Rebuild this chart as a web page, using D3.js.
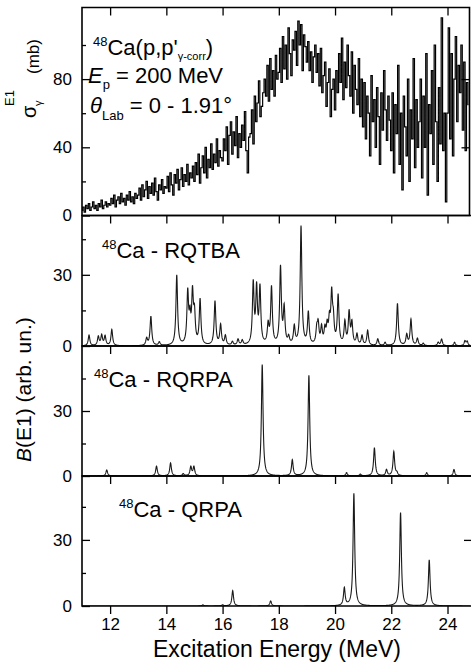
<!DOCTYPE html>
<html>
<head>
<meta charset="utf-8">
<script src="https://cdn.jsdelivr.net/npm/d3@7"></script>
<style>
body{margin:0;background:#fff;}
text{font-family:"Liberation Sans",Arial,sans-serif;fill:#000;}
</style>
</head>
<body>
<script>
// measured spectrum, 48Ca(p,p'), bins of 0.05 MeV starting at 11.00 MeV
var spec_start = 11.0, spec_bin = 0.05;
var sigmaE1 = [
  3,5,2,6,4,7,3,5,8,4,6,3,7,5,9,4,6,8,5,7,
  6,10,7,12,5,9,11,7,13,8,10,6,12,9,14,8,11,7,13,10,
  12,16,9,18,11,15,20,10,17,13,19,12,22,14,9,18,15,21,13,17,
  16,23,14,25,18,12,24,19,27,15,21,28,17,24,20,30,18,25,22,29,
  20,31,24,36,19,28,35,25,40,22,33,28,42,27,36,31,45,29,38,34,
  32,45,38,52,30,47,55,36,49,41,58,34,48,40,53,44,61,38,25,46,
  48,62,42,70,55,66,79,58,64,72,80,70,88,67,92,74,85,70,94,80,
  84,98,78,105,86,100,80,110,95,82,103,97,108,88,114,100,112,85,106,99,
  90,102,85,96,78,93,100,84,95,76,98,72,82,90,64,78,86,58,74,80,
  62,85,72,95,78,104,68,90,75,100,82,70,96,60,88,74,65,92,58,80,
  52,78,45,70,60,35,82,55,68,40,75,58,30,72,50,85,62,44,70,56,
  38,72,25,65,48,88,30,60,15,70,52,35,80,20,62,45,92,28,68,40,
  55,80,22,70,40,95,12,65,48,85,30,100,55,20,75,42,116,38,60,8,
  60,110,45,95,35,80,105,55,88,72,100,50,90,38,78,65
];

// calculated E1 strength: transition energies (MeV) and peak heights (arb. un.)
var rqtbaE = [11.25,11.58,11.70,11.82,12.06,13.30,13.45,13.75,14.37,14.76,14.84,14.93,15.00,15.20,15.73,15.93,16.10,16.35,16.55,16.70,
              17.09,17.21,17.33,17.62,17.74,18.06,18.19,18.35,18.55,18.79,19.05,19.35,19.40,19.52,19.64,19.72,19.80,19.88,19.94,
              20.11,20.35,20.50,20.60,20.78,20.96,21.16,21.52,21.78,22.22,22.55,22.70,22.93,23.14,23.67,23.79,24.25,24.62,24.70];
var rqtbaB = [4.5,3.8,4.3,4.0,6.8,3.0,12.3,1.5,29.5,21.5,10,20.5,12,19,18.5,8.5,4,1.5,2.5,2,
              25.5,23,23.5,8,24,32.5,15,3,7.5,50,13.5,6,8,7,6,7,9,20,9,
              20.5,9.5,13.5,9,4.5,4,6.3,2.8,1.3,17.8,4.5,11,3,1,1.4,2.8,1.5,2,1.8];
var rqrpaE = [11.88,13.65,14.15,14.60,14.87,14.98,17.41,18.48,19.07,20.41,20.90,21.40,21.83,22.09,22.20,23.26,24.23];
var rqrpaB = [2.8,4.5,6,1,4.2,4.2,51.4,7.3,46.4,1.5,0.8,13,2.8,11.2,1.2,1.5,3];
var qrpaE = [15.30,16.00,16.36,17.71,20.33,20.67,22.33,23.35];
var qrpaB = [0.5,0.5,7,2.3,8,51,42.4,20.9];
var gamma_w = 0.035;  // lorentzian half width used for the calculated spectra

var xTicks = [12,14,16,18,20,22,24];
var yTicksTop = [0,40,80], yMinorTop = [20,60,100];
var yTicksCalc = [0,30], yMinorCalc = [15,45];

var svg_width = 471, svg_height = 669;
var left = 82, right = 470;

var svg = d3.select('body')
  .append('svg')
  .attr('width', svg_width)
  .attr('height', svg_height);

var xScale = d3.scaleLinear().domain([11, 24.8]).range([left, right]);

var panels = [
  {top: 7.5,   bottom: 215.5, ymax: 122, major: yTicksTop,  minor: yMinorTop,  edge: 469.5},
  {top: 215.5, bottom: 346,   ymax: 55,  major: yTicksCalc, minor: yMinorCalc, edge: 472},
  {top: 346,   bottom: 476,   ymax: 60,  major: yTicksCalc, minor: yMinorCalc, edge: 472},
  {top: 476,   bottom: 606,   ymax: 59,  major: yTicksCalc, minor: yMinorCalc, edge: 472}
];

panels.forEach(function(p){
  p.y = d3.scaleLinear().domain([0, p.ymax]).range([p.bottom, p.top]);
});

function strength(E, B, e){
  var s = 0;
  for (var i = 0; i < E.length; i++){
    var d = (e - E[i]) / gamma_w;
    s += B[i] / (1 + d*d);
  }
  return s;
}

// curves
var clip = svg.append('defs');
panels.forEach(function(p, i){
  clip.append('clipPath').attr('id', 'c' + i)
    .append('rect').attr('x', left).attr('y', p.top)
    .attr('width', p.edge - left).attr('height', p.bottom - p.top);
});

var specLine = d3.line()
  .x(function(d, i){ return xScale(spec_start + i * spec_bin); })
  .y(function(d){ return panels[0].y(d); })
  .curve(d3.curveStep);

svg.append('path')
  .datum(sigmaE1)
  .attr('clip-path', 'url(#c0)')
  .attr('d', specLine)
  .attr('fill', 'none')
  .attr('stroke', '#000')
  .attr('stroke-width', 1.2);

var grid = d3.range(11, 24.81, 0.005);
[[rqtbaE, rqtbaB], [rqrpaE, rqrpaB], [qrpaE, qrpaB]].forEach(function(c, k){
  var p = panels[k + 1];
  var line = d3.line()
    .x(function(e){ return xScale(e); })
    .y(function(e){ return p.y(strength(c[0], c[1], e)); });
  svg.append('path')
    .datum(grid)
    .attr('clip-path', 'url(#c' + (k + 1) + ')')
    .attr('d', line)
    .attr('fill', 'none')
    .attr('stroke', '#1a1a1a')
    .attr('stroke-width', 1.1);
});

// axes and frames
panels.forEach(function(p, i){
  var g = svg.append('g');
  g.append('g')
    .attr('transform', 'translate(' + left + ',0)')
    .call(d3.axisLeft(p.y).tickValues(p.major).tickSizeInner(-8).tickSizeOuter(0).tickPadding(10).tickFormat(d3.format('d')));
  g.append('g')
    .attr('transform', 'translate(' + left + ',0)')
    .call(d3.axisLeft(p.y).tickValues(p.minor).tickSizeInner(-4).tickSizeOuter(0).tickFormat(''));
  g.append('g')
    .attr('transform', 'translate(' + p.edge + ',0)')
    .call(d3.axisRight(p.y).tickValues(p.major.slice(1)).tickSizeInner(-8).tickSizeOuter(0).tickFormat(''));
  var xa = d3.axisBottom(xScale).tickValues(xTicks).tickSizeInner(8).tickSizeOuter(0).tickPadding(4);
  if (i < 3) xa.tickFormat('');
  g.append('g')
    .attr('transform', 'translate(0,' + p.bottom + ')')
    .call(xa);
  if (i == 0){
    g.append('g')
      .attr('transform', 'translate(0,' + p.top + ')')
      .call(d3.axisBottom(xScale).tickValues(xTicks).tickSizeInner(8).tickSizeOuter(0).tickFormat(''));
  }
  g.selectAll('.domain').remove();
  g.selectAll('.tick line').attr('stroke', '#000').attr('stroke-width', 1.3);
  g.selectAll('.tick text').attr('font-size', 17).attr('fill', '#000')
    .attr('font-family', '"Liberation Sans",Arial,sans-serif');
  g.append('path')
    .attr('d', 'M' + p.edge + ',' + p.top + 'H' + left + 'V' + p.bottom + 'H' + p.edge + (i == 0 ? 'Z' : ''))
    .attr('fill', 'none')
    .attr('stroke', '#000')
    .attr('stroke-width', 1.6);
});

// panel annotations
var t1 = svg.append('text').attr('x', 93).attr('y', 55).attr('font-size', 22);
t1.append('tspan').attr('font-size', 13).attr('dy', -9).text('48');
t1.append('tspan').attr('dy', 9).text("Ca(p,p'");
t1.append('tspan').attr('font-size', 11).attr('dy', 5).text('γ-corr');
t1.append('tspan').attr('dy', -5).text(')');

var t2 = svg.append('text').attr('x', 88).attr('y', 83).attr('font-size', 22);
t2.append('tspan').attr('font-style', 'italic').text('E');
t2.append('tspan').attr('font-size', 13).attr('dy', 6).text('p');
t2.append('tspan').attr('dy', -6).text(' = 200 MeV');

var t3 = svg.append('text').attr('x', 90).attr('y', 113).attr('font-size', 22);
t3.append('tspan').attr('font-style', 'italic').text('θ');
t3.append('tspan').attr('font-size', 13).attr('dy', 7).text('Lab');
t3.append('tspan').attr('dy', -7).text(' = 0 - 1.91°');

var calcLabels = [['RQTBA', 102, 258], ['RQRPA', 94, 387], ['QRPA', 119, 517]];
calcLabels.forEach(function(c){
  var t = svg.append('text').attr('x', c[1]).attr('y', c[2]).attr('font-size', 22);
  t.append('tspan').attr('font-size', 13).attr('dy', -9).text('48');
  t.append('tspan').attr('dy', 9).text('Ca - ' + c[0]);
});

// axis titles
var yt1 = svg.append('g').attr('transform', 'translate(36,120) rotate(-90)');
yt1.append('text').attr('x', 2).attr('y', 0).attr('font-size', 20).text('σ');
yt1.append('text').attr('x', 14).attr('y', -22).attr('font-size', 13).text('E1');
yt1.append('text').attr('x', 14).attr('y', 6).attr('font-size', 11).text('γ');
yt1.append('text').attr('x', 46).attr('y', 3).attr('font-size', 17).text('(mb)');

var yt2 = svg.append('text').attr('transform', 'translate(31,462) rotate(-90)').attr('font-size', 21);
yt2.append('tspan').attr('font-style', 'italic').text('B');
yt2.append('tspan').text('(E1) (arb. un.)');

svg.append('text')
  .attr('x', 153).attr('y', 657)
  .attr('font-size', 23)
  .text('Excitation Energy (MeV)');
</script>
</body>
</html>
